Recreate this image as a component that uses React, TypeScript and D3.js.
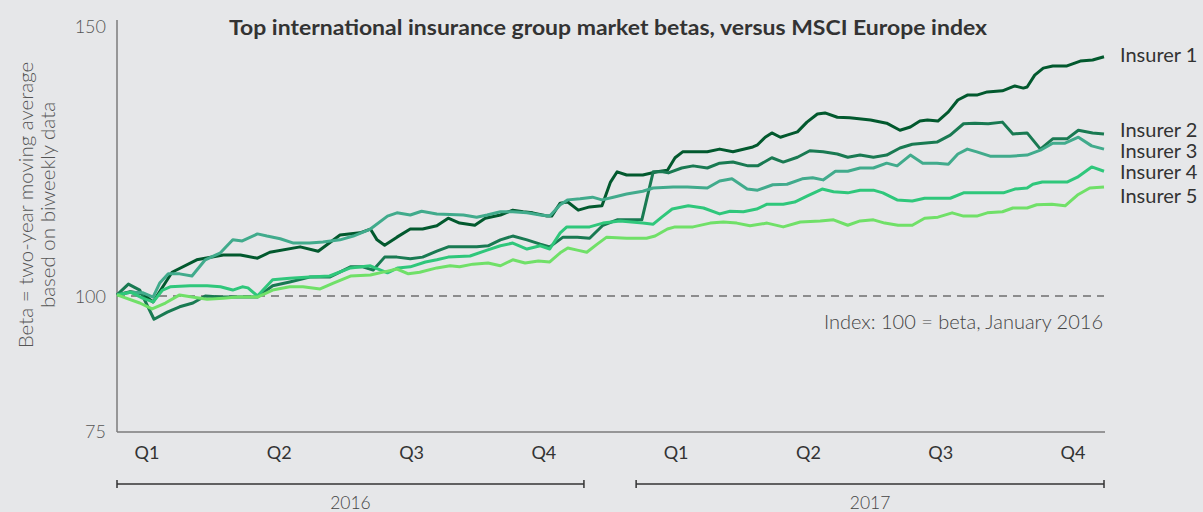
import React from "react";
import * as d3 from "d3";

const seriesNames = ["Insurer 1", "Insurer 2", "Insurer 3", "Insurer 4", "Insurer 5"];
const seriesColors = ["#02592e", "#197a52", "#41ab8c", "#2fc77b", "#70e068"];

// [week since Jan 2016, beta index]
const insurer1: [number, number][] = [
  [0, 100.2], [1.4, 100.8], [2.7, 100.4], [3.8, 98.9], [5.8, 104.4], [8.4, 106.7], [11.2, 107.6], [13.0, 107.6],
  [14.8, 107.0], [16.1, 108.1], [19.3, 109.1], [21.2, 108.3], [23.5, 111.3], [25.6, 111.7], [26.7, 112.4], [27.4, 110.4],
  [28.2, 109.4], [29.5, 110.9], [30.9, 112.4], [32.2, 112.4], [33.7, 113.0], [34.9, 114.4], [36.1, 113.5], [37.7, 113.1],
  [38.8, 114.4], [40.4, 115.0], [41.7, 115.9], [42.8, 115.6], [43.8, 115.4], [45.3, 114.8], [45.8, 114.8], [46.7, 117.2],
  [47.5, 117.4], [48.6, 115.9], [49.8, 116.5], [51.1, 116.7], [52.0, 121.1], [52.7, 123.0], [53.7, 122.4], [55.4, 122.4],
  [56.9, 123.0], [58.0, 123.3], [58.8, 125.6], [59.6, 126.7], [62.2, 126.7], [63.5, 127.2], [64.9, 126.7], [67.0, 127.6],
  [67.5, 128.0], [68.3, 129.4], [69.0, 130.2], [69.9, 129.4], [70.6, 129.8], [71.7, 130.4], [72.7, 132.2], [73.8, 133.7],
  [74.6, 133.9], [75.9, 133.1], [77.2, 133.0], [79.4, 132.6], [81.1, 132.0], [82.5, 130.7], [83.6, 131.3], [84.6, 132.4],
  [85.4, 132.6], [86.5, 132.4], [87.6, 134.1], [88.6, 136.3], [89.6, 137.2], [90.6, 137.2], [91.7, 137.8], [93.3, 138.0],
  [94.6, 138.9], [95.5, 138.5], [95.9, 138.7], [96.7, 140.9], [97.6, 142.2], [98.6, 142.6], [100.1, 142.6], [101.5, 143.5],
  [102.8, 143.7], [104, 144.3],
];

const insurer2: [number, number][] = [
  [0, 100.2], [1.2, 102.2], [2.4, 101.1], [3.9, 95.7], [5.3, 97.0], [6.6, 98.0], [8.0, 98.7], [9.3, 100.0],
  [10.9, 99.8], [14.8, 99.8], [16.4, 101.9], [18.2, 102.6], [20.3, 103.5], [22.4, 103.5], [24.6, 105.4], [25.9, 105.4],
  [27.0, 104.8], [28.2, 107.2], [29.5, 107.2], [30.9, 106.9], [32.2, 107.2], [33.7, 108.3], [34.9, 109.1], [37.9, 109.1],
  [39.1, 109.3], [40.4, 110.4], [41.7, 111.1], [43.2, 110.4], [44.6, 109.6], [45.6, 109.1], [47.0, 110.9], [48.5, 110.9],
  [49.8, 110.7], [51.2, 113.1], [52.7, 114.1], [55.3, 114.1], [56.5, 123.0], [57.5, 123.0], [58.1, 122.8], [59.5, 123.7],
  [60.7, 124.1], [62.2, 123.7], [63.5, 124.6], [64.9, 124.8], [66.5, 124.1], [67.5, 124.1], [69.0, 125.6], [70.2, 124.8],
  [71.7, 125.7], [73.0, 126.9], [74.4, 126.7], [75.9, 126.3], [77.0, 125.7], [78.3, 126.1], [79.7, 125.7], [81.1, 126.1],
  [82.5, 127.4], [83.8, 128.1], [86.4, 128.5], [87.8, 129.8], [89.2, 131.9], [90.4, 132.0], [91.8, 131.9], [93.3, 132.2],
  [94.4, 130.0], [95.9, 130.2], [97.3, 127.2], [98.6, 129.1], [100.1, 129.1], [101.3, 130.7], [102.8, 130.2], [104, 130.0],
];

const insurer3: [number, number][] = [
  [0, 100.2], [1.4, 100.7], [2.7, 100.6], [3.8, 99.8], [4.5, 102.4], [5.4, 104.1], [6.6, 104.1], [7.9, 103.7],
  [9.3, 106.7], [10.9, 108.0], [12.2, 110.4], [13.2, 110.2], [14.8, 111.5], [15.8, 111.1], [17.2, 110.6], [18.6, 109.8],
  [20.3, 109.8], [21.7, 110.0], [23.5, 110.4], [24.9, 111.1], [26.7, 112.4], [28.5, 114.8], [29.5, 115.4], [30.9, 115.0],
  [32.1, 115.7], [33.7, 115.2], [36.5, 115.0], [37.9, 114.6], [39.0, 115.0], [40.4, 115.6], [41.7, 115.6], [43.2, 115.4],
  [44.6, 115.0], [45.6, 114.8], [46.7, 116.9], [47.5, 117.8], [48.8, 118.0], [50.1, 118.3], [51.1, 117.8], [52.3, 118.3],
  [53.7, 118.9], [55.4, 119.4], [56.5, 120.0], [58.6, 120.2], [60.1, 120.2], [62.2, 120.0], [63.5, 121.3], [64.8, 121.7],
  [66.4, 119.8], [67.5, 119.6], [69.1, 120.6], [70.6, 120.7], [72.2, 121.7], [73.3, 121.9], [74.4, 121.5], [75.7, 123.1],
  [77.0, 123.1], [78.3, 123.7], [79.7, 123.7], [81.1, 124.6], [82.2, 124.1], [83.6, 126.1], [84.9, 124.6], [86.4, 124.6],
  [87.6, 124.4], [88.6, 126.3], [89.6, 127.2], [90.6, 126.7], [92.0, 125.9], [94.1, 125.9], [95.9, 126.1], [97.3, 127.0],
  [98.6, 128.3], [99.9, 128.3], [101.3, 129.4], [102.7, 127.8], [104, 127.2],
];

const insurer4: [number, number][] = [
  [0, 100.2], [1.4, 100.7], [2.7, 99.6], [3.8, 98.9], [4.8, 101.1], [5.6, 101.7], [7.7, 101.9], [9.5, 101.9],
  [10.9, 101.7], [12.2, 101.1], [13.2, 101.7], [13.8, 101.5], [14.8, 100.0], [16.4, 103.0], [18.2, 103.3], [20.3, 103.5],
  [22.4, 103.7], [24.6, 105.2], [26.7, 105.6], [27.2, 105.2], [28.5, 104.3], [29.6, 105.2], [30.9, 105.4], [32.5, 106.3],
  [33.7, 106.7], [34.9, 107.2], [37.2, 107.4], [39.0, 108.5], [40.4, 109.3], [41.7, 109.8], [43.2, 108.7], [44.6, 109.3],
  [45.6, 108.7], [46.7, 111.7], [47.4, 112.8], [49.8, 112.8], [51.2, 113.5], [53.0, 113.9], [55.4, 113.5], [56.5, 113.3],
  [57.4, 114.6], [58.5, 116.1], [60.2, 116.7], [61.8, 116.3], [63.5, 115.2], [64.6, 115.7], [66.0, 115.6], [67.4, 116.1],
  [68.5, 117.0], [70.2, 117.0], [71.4, 117.4], [72.7, 118.5], [74.3, 119.8], [75.5, 119.3], [77.0, 119.1], [78.3, 119.6],
  [79.7, 119.6], [80.7, 119.1], [82.2, 117.8], [83.8, 117.6], [85.1, 118.1], [87.8, 118.1], [89.2, 119.1], [93.4, 119.1],
  [94.6, 119.8], [95.9, 120.0], [96.5, 120.7], [97.5, 121.1], [100.1, 121.1], [101.2, 122.0], [102.7, 123.9], [104, 123.1],
];

const insurer5: [number, number][] = [
  [0, 100.2], [2.4, 98.7], [3.7, 97.6], [5.1, 98.7], [6.6, 100.2], [7.9, 99.8], [9.5, 99.4], [11.2, 99.6],
  [12.6, 99.8], [14.8, 99.8], [16.4, 101.1], [18.2, 101.7], [19.6, 101.7], [21.4, 101.3], [22.8, 102.4], [24.6, 103.7],
  [26.7, 103.9], [28.5, 104.6], [29.5, 105.0], [30.7, 104.1], [31.9, 104.4], [33.7, 105.2], [35.1, 105.6], [36.1, 105.4],
  [37.5, 105.9], [39.1, 106.1], [40.4, 105.6], [41.7, 106.7], [43.0, 106.1], [44.4, 106.5], [45.6, 106.3], [46.7, 108.0],
  [47.5, 108.9], [48.5, 108.5], [49.5, 108.1], [50.6, 109.6], [51.6, 110.9], [53.7, 110.7], [55.8, 110.7], [56.7, 111.1],
  [58.0, 112.4], [58.8, 112.8], [60.7, 112.8], [62.5, 113.5], [63.9, 113.7], [65.3, 113.5], [66.7, 113.0], [68.5, 113.5],
  [70.2, 112.8], [72.0, 113.7], [74.1, 113.9], [75.5, 114.1], [77.0, 113.1], [78.3, 113.9], [79.7, 114.1], [80.9, 113.5],
  [82.3, 113.1], [83.8, 113.1], [85.1, 114.4], [86.5, 114.6], [88.0, 115.4], [89.2, 114.8], [90.6, 114.8], [91.7, 115.4],
  [93.3, 115.6], [94.4, 116.3], [95.9, 116.3], [96.9, 116.9], [98.5, 117.0], [99.9, 116.7], [101.2, 118.7], [102.5, 120.0],
  [104, 120.2],
];

const allSeries = [insurer1, insurer2, insurer3, insurer4, insurer5];
const legendValues = [144.8, 130.9, 127.0, 123.1, 118.7];

const yTicks = [75, 100, 150];
const quarterLabels = ["Q1", "Q2", "Q3", "Q4", "Q1 ", "Q2 ", "Q3 ", "Q4 "];
const years = ["2016", "2017"];
const yearSpans: [number, number][] = [[0, 49.2], [54.7, 104]];

const W = 1203;
const H = 512;
const FONT = "Lato, 'Open Sans', sans-serif";

export default function App() {
  const x = d3.scaleLinear().domain([0, 104]).range([117, 1104]);
  const y = d3.scaleLinear().domain([75, 150]).range([431, 26]);
  const q = d3.scalePoint<string>().domain(quarterLabels).range([147, 1073]);
  const line = d3
    .line<[number, number]>()
    .x((d) => x(d[0]))
    .y((d) => y(d[1]))
    .curve(d3.curveLinear);

  return (
    <svg
      width={W}
      height={H}
      style={{ position: "absolute", left: 0, top: 0, background: "#e6e7e9" }}
      fontFamily={FONT}
    >
      <rect x={0} y={0} width={W} height={H} fill="#e6e7e9" />
      <text x={608} y={27} textAnchor="middle" dominantBaseline="central" fontSize={20.5} fontWeight={700} fill="#333" textLength={758} lengthAdjust="spacingAndGlyphs">
        Top international insurance group market betas, versus MSCI Europe index
      </text>

      {/* y axis title */}
      <g transform={`translate(0, 205) rotate(-90)`}>
        <text x={0} y={25} textAnchor="middle" dominantBaseline="central" fontSize={20.5} fill="#555" fontWeight={300}>
          Beta = two-year moving average
        </text>
        <text x={0} y={47} textAnchor="middle" dominantBaseline="central" fontSize={20.5} fill="#555" fontWeight={300}>
          based on biweekly data
        </text>
      </g>

      {/* axes */}
      <line x1={117} x2={117} y1={20} y2={432} stroke="#7b7b7b" strokeWidth={1.5} />
      <line x1={117} x2={x(104) + 1} y1={432} y2={432} stroke="#7b7b7b" strokeWidth={1.5} />
      {yTicks.map((t) => (
        <text key={t} x={106} y={y(t)} textAnchor="end" dominantBaseline="central" fontSize={18} fill="#555" fontWeight={300}>
          {t}
        </text>
      ))}

      {/* index line */}
      <line x1={117} x2={x(104)} y1={y(100)} y2={y(100)} stroke="#333" strokeWidth={1.2} strokeDasharray="8,6" />
      <text x={1103} y={321} textAnchor="end" dominantBaseline="central" fontSize={20} fill="#444" fontWeight={300}>
        Index: 100 = beta, January 2016
      </text>

      {/* series */}
      {allSeries.map((s, i) => (
        <path key={i} d={line(s) || ""} fill="none" stroke={seriesColors[i]} strokeWidth={3} strokeLinejoin="round" />
      ))}

      {/* legend */}
      {seriesNames.map((n, i) => (
        <text key={n} x={1120} y={y(legendValues[i])} dominantBaseline="central" fontSize={20} fill="#333">
          {n}
        </text>
      ))}

      {/* quarter labels */}
      {quarterLabels.map((l) => (
        <text key={l} x={q(l)} y={452} textAnchor="middle" dominantBaseline="central" fontSize={18} fill="#333">
          {l.trim()}
        </text>
      ))}

      {/* year brackets */}
      {years.map((yr, i) => {
        const x0 = x(yearSpans[i][0]);
        const x1 = x(yearSpans[i][1]);
        return (
          <g key={yr}>
            <line x1={x0} x2={x1} y1={484} y2={484} stroke="#333" strokeWidth={1.3} />
            <line x1={x0} x2={x0} y1={480} y2={488} stroke="#333" strokeWidth={1.5} />
            <line x1={x1} x2={x1} y1={480} y2={488} stroke="#333" strokeWidth={1.5} />
            <text x={(x0 + x1) / 2} y={502} textAnchor="middle" dominantBaseline="central" fontSize={17.5} fill="#444" fontWeight={300}>
              {yr}
            </text>
          </g>
        );
      })}
    </svg>
  );
}
